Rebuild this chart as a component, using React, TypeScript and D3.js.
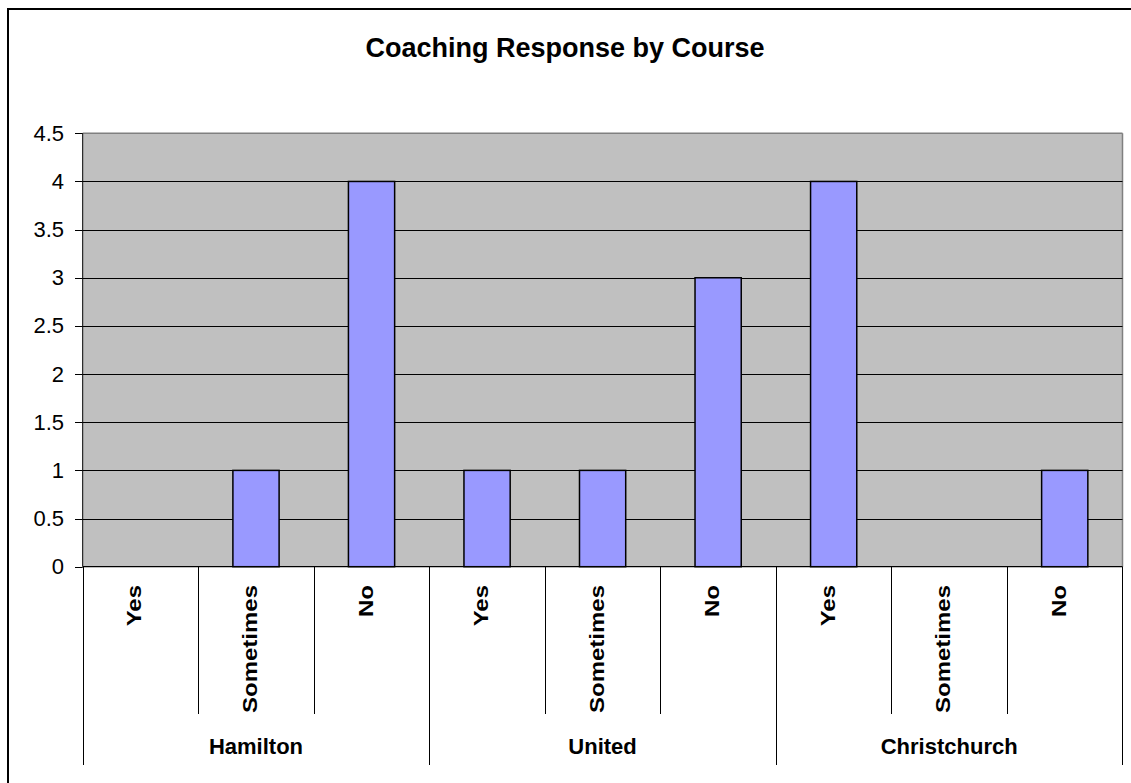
import React from "react";
import * as d3 from "d3";

// Response counts per course
const courses = ["Hamilton", "United", "Christchurch"];
const responses = ["Yes", "Sometimes", "No"];
const hamiltonValues = [0, 1, 4];
const unitedValues = [1, 1, 3];
const christchurchValues = [4, 0, 1];
const yTicks = [0, 0.5, 1, 1.5, 2, 2.5, 3, 3.5, 4, 4.5];

const seriesByCourse = [hamiltonValues, unitedValues, christchurchValues];

const W = 1131;
const H = 783;
const plot = { left: 82.7, right: 1122.5, top: 133.3, bottom: 566.7 };
const FONT = "'Liberation Sans', Arial, Helvetica, sans-serif";

type Row = { key: string; course: string; response: string; value: number };

const rows: Row[] = courses.flatMap((course, ci) =>
  responses.map((response, ri) => ({
    key: `${course}-${response}`,
    course,
    response,
    value: seriesByCourse[ci][ri],
  }))
);

export default function App() {
  const x = d3
    .scaleBand<string>()
    .domain(rows.map((r) => r.key))
    .range([plot.left, plot.right])
    .padding(0);
  const groupX = d3
    .scaleBand<string>()
    .domain(courses)
    .range([plot.left, plot.right])
    .padding(0);
  const y = d3.scaleLinear().domain([0, 4.5]).range([plot.bottom, plot.top]);

  const bw = x.bandwidth();
  const barW = bw * 0.4;
  const catTickBottom = 714;
  const groupTickBottom = 765;

  return (
    <svg
      width={W}
      height={H}
      style={{ position: "absolute", left: 0, top: 0, background: "#fff" }}
      fontFamily={FONT}
    >
      {/* chart frame */}
      <rect x={8} y={9} width={W + 20} height={H + 20} fill="#fff" stroke="#000" strokeWidth={2} />

      <text x={565} y={57} textAnchor="middle" fontSize={27} fontWeight="bold" fill="#000">
        Coaching Response by Course
      </text>

      {/* plot area */}
      <rect
        x={plot.left}
        y={plot.top}
        width={plot.right - plot.left}
        height={plot.bottom - plot.top}
        fill="#C0C0C0"
      />
      <line x1={plot.left} x2={plot.right} y1={plot.top} y2={plot.top} stroke="#808080" strokeWidth={1.5} />
      <line x1={plot.right} x2={plot.right} y1={plot.top} y2={plot.bottom} stroke="#808080" strokeWidth={1.5} />

      {/* gridlines */}
      {yTicks
        .filter((t) => t > 0 && t < 4.5)
        .map((t) => (
          <line
            key={`g${t}`}
            x1={plot.left}
            x2={plot.right}
            y1={Math.round(y(t)) + 0.5}
            y2={Math.round(y(t)) + 0.5}
            stroke="#000"
            strokeWidth={1}
          />
        ))}

      {/* bars */}
      {rows
        .filter((r) => r.value > 0)
        .map((r) => {
          const cx = (x(r.key) as number) + bw / 2;
          return (
            <rect
              key={r.key}
              x={cx - barW / 2}
              y={y(r.value)}
              width={barW}
              height={y(0) - y(r.value)}
              fill="#9999FF"
              stroke="#000"
              strokeWidth={1.5}
            />
          );
        })}

      {/* y axis */}
      <line x1={plot.left} x2={plot.left} y1={plot.top} y2={plot.bottom} stroke="#000" strokeWidth={1} />
      {yTicks.map((t) => (
        <g key={`t${t}`}>
          <line
            x1={75}
            x2={plot.left}
            y1={Math.round(y(t)) + 0.5}
            y2={Math.round(y(t)) + 0.5}
            stroke="#000"
            strokeWidth={1}
          />
          <text x={64} y={y(t) + 7.5} textAnchor="end" fontSize={22} fill="#000">
            {String(t)}
          </text>
        </g>
      ))}

      {/* x axis */}
      <line x1={plot.left} x2={plot.right} y1={plot.bottom} y2={plot.bottom} stroke="#000" strokeWidth={1.2} />
      {rows.map((r, i) => {
        const x0 = x(r.key) as number;
        const isGroupEdge = i % responses.length === 0;
        return (
          <line
            key={`ct${r.key}`}
            x1={Math.round(x0) + 0.5}
            x2={Math.round(x0) + 0.5}
            y1={plot.bottom}
            y2={isGroupEdge ? groupTickBottom : catTickBottom}
            stroke="#000"
            strokeWidth={1}
          />
        );
      })}
      <line
        x1={plot.right}
        x2={plot.right}
        y1={plot.bottom}
        y2={groupTickBottom}
        stroke="#000"
        strokeWidth={1}
      />

      {/* response labels */}
      {rows.map((r) => {
        const cx = (x(r.key) as number) + bw / 2;
        return (
          <text
            key={`cl${r.key}`}
            transform={`translate(${cx + 1},585) rotate(-90) scale(1.2,1)`}
            textAnchor="end"
            fontSize={20}
            fontWeight="bold"
            fill="#000"
          >
            {r.response}
          </text>
        );
      })}

      {/* course labels */}
      {courses.map((c) => (
        <text
          key={`gl${c}`}
          x={(groupX(c) as number) + groupX.bandwidth() / 2}
          y={754}
          textAnchor="middle"
          fontSize={22}
          fontWeight="bold"
          fill="#000"
        >
          {c}
        </text>
      ))}
    </svg>
  );
}
